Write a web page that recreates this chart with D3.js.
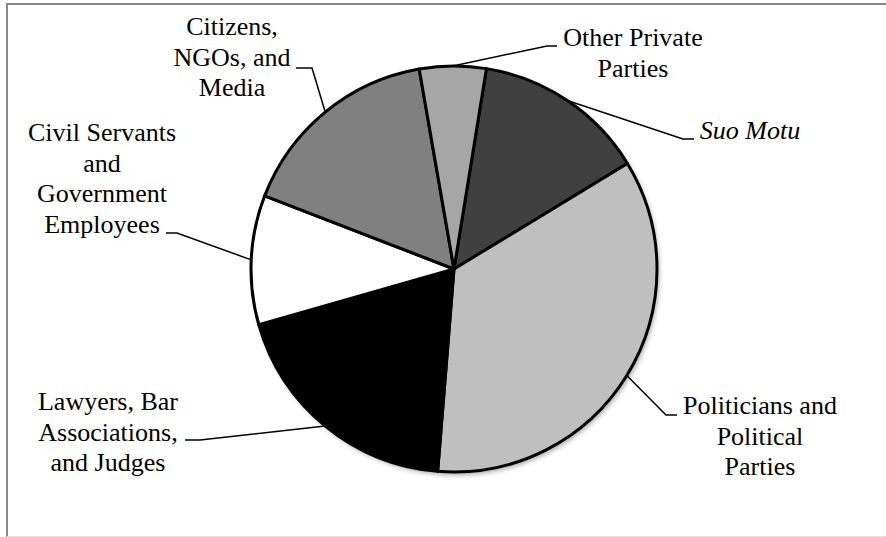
<!DOCTYPE html>
<html><head><meta charset="utf-8">
<script src="https://cdn.jsdelivr.net/npm/d3@7"></script>
<style>html,body{margin:0;padding:0;background:#fff;} svg{display:block}</style>
</head><body><svg id="c" width="886" height="537"></svg>
<script>
// ---- data ----
const categories = ["Suo Motu", "Politicians and Political Parties", "Lawyers, Bar Associations, and Judges",
  "Civil Servants and Government Employees", "Citizens, NGOs, and Media", "Other Private Parties"];
const shares = [13.75, 35.0, 19.3, 10.3, 16.4, 5.3];
const labelLines = [["Suo Motu"], ["Politicians and", "Political", "Parties"], ["Lawyers, Bar", "Associations,", "and Judges"],
  ["Civil Servants", "and", "Government", "Employees"], ["Citizens,", "NGOs, and", "Media"], ["Other Private", "Parties"]];

// ---- layout / style ----
const W = 886, H = 537, cx = 454, cy = 269, R = 203;
const color = d3.scaleOrdinal().domain(categories)
  .range(["#404040", "#bfbfbf", "#000000", "#ffffff", "#808080", "#a6a6a6"]);
// label placement: text centre x, first baseline y, leader elbow x, leader end x, leader y
const place = {
  "Suo Motu": {x: 750, y: 139, ex: 683, tx: 694, ly: 139, italic: true},
  "Politicians and Political Parties": {x: 760, y: 414, ex: 666, tx: 677, ly: 415},
  "Lawyers, Bar Associations, and Judges": {x: 108, y: 410, ex: 200, tx: 185, ly: 440},
  "Civil Servants and Government Employees": {x: 102, y: 141, ex: 177, tx: 166, ly: 233},
  "Citizens, NGOs, and Media": {x: 232, y: 35, ex: 312, tx: 296, ly: 68},
  "Other Private Parties": {x: 633, y: 46, ex: 547, tx: 557, ly: 46}
};
const lineH = 30.5;

const svg = d3.select("#c");
svg.append("rect").attr("width", W).attr("height", H).attr("fill", "#fff");
// frame
svg.append("line").attr("x1", 7).attr("x2", W).attr("y1", 4).attr("y2", 4).attr("stroke", "#8a8a8a").attr("stroke-width", 2);
svg.append("line").attr("x1", 7).attr("x2", 7).attr("y1", 3).attr("y2", H).attr("stroke", "#8a8a8a").attr("stroke-width", 2);
svg.append("line").attr("x1", 7).attr("x2", W).attr("y1", 536.5).attr("y2", 536.5).attr("stroke", "#e2e2e2").attr("stroke-width", 1);

const defs = svg.append("defs");
const f = defs.append("filter").attr("id", "sh").attr("x", "-10%").attr("y", "-10%").attr("width", "120%").attr("height", "120%");
f.append("feDropShadow").attr("dx", 2).attr("dy", 3).attr("stdDeviation", 2.5).attr("flood-color", "#000").attr("flood-opacity", 0.35);

const data = categories.map((c, i) => ({cat: c, v: shares[i], lines: labelLines[i]}));
const start = 9.2 * Math.PI / 180;
const pie = d3.pie().sort(null).value(d => d.v).startAngle(start).endAngle(start + 2 * Math.PI);
const arcs = pie(data);
const arc = d3.arc().innerRadius(0).outerRadius(R);

const g = svg.append("g").attr("transform", `translate(${cx},${cy})`);
g.append("circle").attr("r", R).attr("fill", "#fff").attr("filter", "url(#sh)");
g.selectAll("path.s").data(arcs).join("path").attr("class", "s")
  .attr("d", arc).attr("fill", d => color(d.data.cat))
  .attr("stroke", "#000").attr("stroke-width", 3).attr("stroke-linejoin", "round");

// leader lines
const edgeArc = d3.arc().innerRadius(R).outerRadius(R);
arcs.forEach(d => {
  const p = place[d.data.cat];
  const [ax, ay] = edgeArc.centroid(d);
  svg.append("polyline")
    .attr("points", `${cx + ax},${cy + ay} ${p.ex},${p.ly} ${p.tx},${p.ly}`)
    .attr("fill", "none").attr("stroke", "#000").attr("stroke-width", 1.5);
});

// labels
arcs.forEach(d => {
  const p = place[d.data.cat];
  d.data.lines.forEach((ln, i) => {
    svg.append("text")
      .style("font-family", '"Liberation Serif"')
      .style("font-size", "26px")
      .style("font-style", p.italic ? "italic" : "normal")
      .attr("fill", "#000").attr("text-anchor", "middle")
      .attr("x", p.x).attr("y", p.y + i * lineH).text(ln);
  });
});
</script>
</body></html>
